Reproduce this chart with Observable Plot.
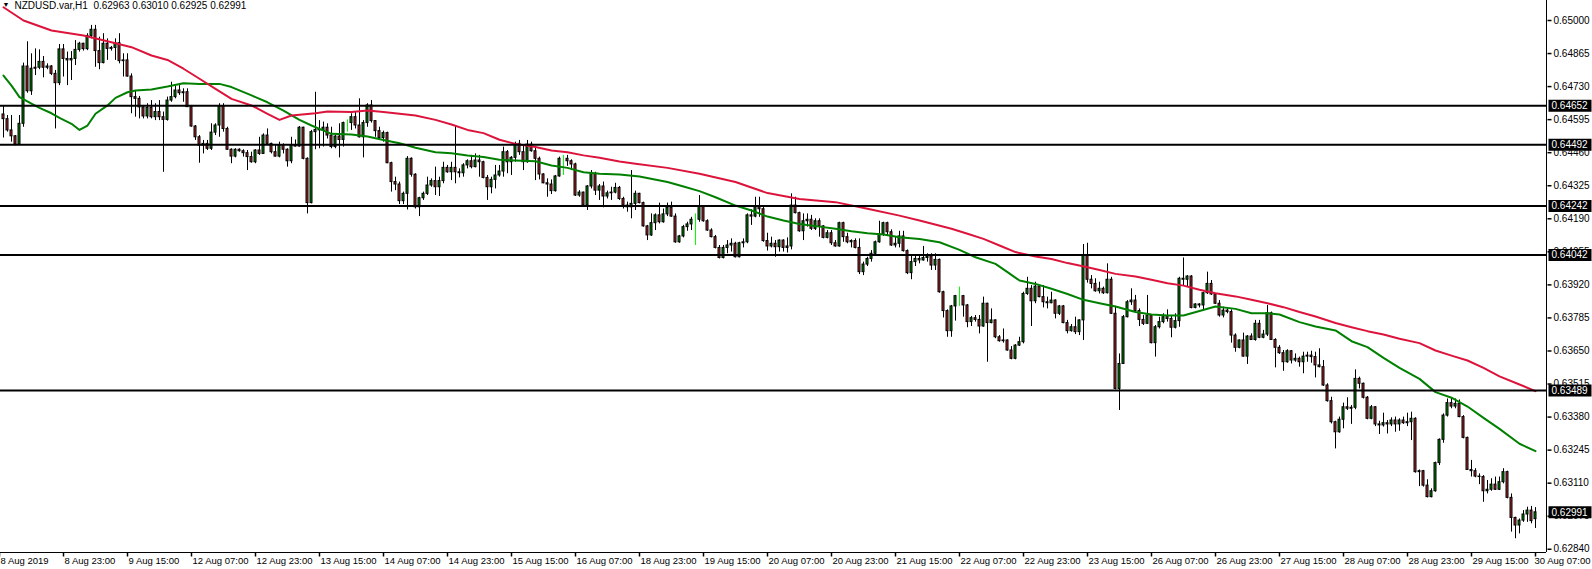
<!DOCTYPE html>
<html><head><meta charset="utf-8">
<script src="https://cdn.jsdelivr.net/npm/d3@7"></script>
<script src="https://cdn.jsdelivr.net/npm/@observablehq/plot@0.6"></script>
<style>body{margin:0;background:#fff;} svg{display:block}</style>
</head><body><div id="chart"></div>
<script>
const symbolName = "NZDUSD.var,H1";

const opens = [
0.64616,0.64597,0.64551,0.64527,0.64493,0.64578,0.64812,0.64711,0.64803,0.64807,0.64831,0.64807,0.64812,0.64782,0.64744,0.64882,
0.64843,0.64837,0.64843,0.64880,0.64905,0.64883,0.64937,0.64962,0.64875,0.64826,0.64905,0.64884,0.64888,0.64907,0.64834,0.64837,
0.64771,0.64687,0.64680,0.64645,0.64608,0.64643,0.64605,0.64626,0.64605,0.64594,0.64673,0.64687,0.64714,0.64703,0.64707,0.64646,
0.64567,0.64523,0.64489,0.64496,0.64476,0.64542,0.64571,0.64649,0.64557,0.64472,0.64444,0.64472,0.64466,0.64458,0.64442,0.64421,
0.64469,0.64455,0.64530,0.64496,0.64462,0.64444,0.64489,0.64472,0.64425,0.64489,0.64485,0.64562,0.64435,0.64254,0.64544,0.64553,
0.64551,0.64562,0.64530,0.64483,0.64526,0.64512,0.64581,0.64581,0.64605,0.64571,0.64523,0.64581,0.64653,0.64589,0.64548,0.64520,
0.64540,0.64417,0.64340,0.64330,0.64262,0.64292,0.64435,0.64370,0.64237,0.64274,0.64292,0.64326,0.64344,0.64319,0.64344,0.64398,
0.64380,0.64398,0.64380,0.64376,0.64408,0.64425,0.64401,0.64428,0.64421,0.64357,0.64319,0.64349,0.64367,0.64383,0.64462,0.64421,
0.64439,0.64496,0.64462,0.64421,0.64493,0.64466,0.64435,0.64371,0.64335,0.64330,0.64303,0.64363,0.64435,0.64435,0.64425,0.64412,
0.64285,0.64297,0.64244,0.64322,0.64374,0.64305,0.64322,0.64281,0.64294,0.64297,0.64316,0.64271,0.64244,0.64237,0.64251,0.64292,
0.64254,0.64159,0.64122,0.64172,0.64204,0.64176,0.64208,0.64235,0.64199,0.64094,0.64118,0.64156,0.64167,0.64186,0.64186,0.64240,
0.64180,0.64142,0.64115,0.64071,0.64030,0.64071,0.64081,0.64088,0.64033,0.64090,0.64094,0.64204,0.64199,0.64237,0.64229,0.64099,
0.64077,0.64088,0.64074,0.64101,0.64071,0.64077,0.64244,0.64213,0.64139,0.64180,0.64186,0.64149,0.64180,0.64159,0.64112,0.64131,
0.64090,0.64077,0.64172,0.64115,0.64094,0.64099,0.64071,0.63972,0.64003,0.64026,0.64047,0.64094,0.64126,0.64172,0.64135,0.64081,
0.64088,0.64118,0.64058,0.63968,0.64013,0.64026,0.64020,0.64030,0.64036,0.63999,0.64022,0.63890,0.63813,0.63731,0.63832,0.63874,
0.63874,0.63836,0.63768,0.63784,0.63777,0.63750,0.63843,0.63764,0.63775,0.63706,0.63690,0.63693,0.63652,0.63618,0.63672,0.63686,
0.63883,0.63904,0.63853,0.63913,0.63870,0.63849,0.63845,0.63856,0.63802,0.63832,0.63764,0.63731,0.63747,0.63727,0.63775,0.64040,
0.63941,0.63924,0.63894,0.63904,0.63886,0.63941,0.63802,0.63495,0.63597,0.63788,0.63849,0.63856,0.63813,0.63777,0.63761,0.63795,
0.63682,0.63747,0.63768,0.63788,0.63781,0.63745,0.63772,0.63945,0.63941,0.63954,0.63826,0.63840,0.63836,0.63886,0.63924,0.63881,
0.63843,0.63795,0.63815,0.63809,0.63713,0.63663,0.63693,0.63627,0.63709,0.63695,0.63761,0.63704,0.63717,0.63804,0.63695,0.63663,
0.63641,0.63604,0.63649,0.63611,0.63618,0.63604,0.63627,0.63631,0.63625,0.63591,0.63584,0.63509,0.63445,0.63359,0.63318,0.63369,
0.63420,0.63414,0.63418,0.63536,0.63516,0.63459,0.63373,0.63420,0.63350,0.63346,0.63355,0.63350,0.63366,0.63350,0.63366,0.63355,
0.63359,0.63373,0.63155,0.63159,0.63100,0.63053,0.63077,0.63192,0.63287,0.63386,0.63437,0.63423,0.63434,0.63380,0.63295,0.63164,
0.63159,0.63137,0.63135,0.63077,0.63083,0.63104,0.63083,0.63114,0.63155,0.63050,0.62968,0.62937,0.62957,0.62982,0.62998,0.62963];

const highs = [
0.64649,0.64612,0.64612,0.64530,0.64612,0.64826,0.64913,0.64864,0.64884,0.64880,0.64853,0.64823,0.64816,0.64796,0.64902,0.64902,
0.64871,0.64873,0.64918,0.64911,0.64907,0.64946,0.64980,0.64980,0.64932,0.64946,0.64925,0.64894,0.64925,0.64946,0.64864,0.64864,
0.64782,0.64714,0.64690,0.64653,0.64660,0.64673,0.64660,0.64673,0.64626,0.64687,0.64748,0.64734,0.64734,0.64721,0.64721,0.64653,
0.64571,0.64530,0.64510,0.64510,0.64578,0.64578,0.64660,0.64660,0.64564,0.64476,0.64476,0.64476,0.64472,0.64469,0.64462,0.64472,
0.64523,0.64537,0.64557,0.64499,0.64489,0.64503,0.64496,0.64476,0.64523,0.64512,0.64567,0.64564,0.64439,0.64551,0.64707,0.64591,
0.64585,0.64578,0.64564,0.64530,0.64578,0.64585,0.64594,0.64619,0.64626,0.64680,0.64591,0.64660,0.64673,0.64591,0.64564,0.64548,
0.64544,0.64421,0.64360,0.64340,0.64299,0.64444,0.64439,0.64374,0.64278,0.64299,0.64360,0.64353,0.64401,0.64360,0.64421,0.64408,
0.64421,0.64571,0.64394,0.64415,0.64431,0.64449,0.64455,0.64449,0.64425,0.64367,0.64360,0.64408,0.64408,0.64483,0.64469,0.64444,
0.64503,0.64510,0.64489,0.64510,0.64503,0.64483,0.64442,0.64374,0.64353,0.64349,0.64367,0.64442,0.64449,0.64449,0.64431,0.64417,
0.64305,0.64299,0.64326,0.64387,0.64380,0.64330,0.64340,0.64303,0.64319,0.64335,0.64322,0.64278,0.64258,0.64387,0.64303,0.64294,
0.64258,0.64163,0.64210,0.64210,0.64254,0.64230,0.64254,0.64258,0.64210,0.64122,0.64163,0.64176,0.64196,0.64210,0.64285,0.64244,
0.64186,0.64149,0.64122,0.64081,0.64081,0.64101,0.64108,0.64094,0.64094,0.64108,0.64210,0.64227,0.64278,0.64278,0.64237,0.64131,
0.64115,0.64101,0.64104,0.64104,0.64112,0.64292,0.64278,0.64217,0.64210,0.64210,0.64204,0.64190,0.64190,0.64162,0.64142,0.64142,
0.64101,0.64176,0.64176,0.64131,0.64104,0.64108,0.64108,0.64013,0.64033,0.64060,0.64099,0.64180,0.64176,0.64176,0.64145,0.64115,
0.64139,0.64139,0.64063,0.64036,0.64040,0.64040,0.64077,0.64047,0.64047,0.64047,0.64026,0.63894,0.63818,0.63836,0.63877,0.63911,
0.63877,0.63840,0.63791,0.63795,0.63795,0.63870,0.63845,0.63822,0.63777,0.63713,0.63740,0.63695,0.63668,0.63676,0.63706,0.63890,
0.63951,0.63917,0.63931,0.63917,0.63917,0.63870,0.63890,0.63859,0.63836,0.63836,0.63775,0.63758,0.63788,0.63777,0.64085,0.64090,
0.63958,0.63945,0.63931,0.63911,0.64006,0.63951,0.63832,0.63638,0.63795,0.63856,0.63904,0.63877,0.63822,0.63795,0.63877,0.63799,
0.63754,0.63788,0.63802,0.63818,0.63795,0.63802,0.63951,0.64030,0.63958,0.63958,0.63843,0.63843,0.63890,0.63972,0.63938,0.63883,
0.63856,0.63829,0.63822,0.63818,0.63720,0.63695,0.63723,0.63713,0.63720,0.63775,0.63775,0.63734,0.63836,0.63809,0.63700,0.63672,
0.63652,0.63655,0.63652,0.63638,0.63625,0.63645,0.63645,0.63649,0.63645,0.63659,0.63611,0.63516,0.63461,0.63363,0.63380,0.63437,
0.63459,0.63427,0.63573,0.63543,0.63519,0.63464,0.63427,0.63423,0.63363,0.63396,0.63366,0.63377,0.63380,0.63373,0.63380,0.63396,
0.63400,0.63377,0.63164,0.63162,0.63124,0.63087,0.63196,0.63291,0.63393,0.63454,0.63459,0.63454,0.63450,0.63386,0.63298,0.63203,
0.63169,0.63148,0.63141,0.63121,0.63128,0.63135,0.63135,0.63169,0.63159,0.63066,0.62971,0.62964,0.62998,0.63012,0.63015,0.63010];

const lows = [
0.64520,0.64544,0.64503,0.64488,0.64491,0.64564,0.64703,0.64694,0.64775,0.64799,0.64766,0.64799,0.64775,0.64557,0.64734,0.64769,
0.64734,0.64755,0.64816,0.64871,0.64875,0.64877,0.64925,0.64809,0.64799,0.64823,0.64837,0.64875,0.64837,0.64823,0.64769,0.64769,
0.64619,0.64605,0.64598,0.64598,0.64598,0.64598,0.64591,0.64591,0.64380,0.64589,0.64666,0.64680,0.64694,0.64666,0.64645,0.64564,
0.64510,0.64417,0.64455,0.64469,0.64469,0.64530,0.64523,0.64544,0.64469,0.64415,0.64439,0.64462,0.64442,0.64387,0.64417,0.64415,
0.64449,0.64453,0.64493,0.64455,0.64442,0.64439,0.64455,0.64401,0.64415,0.64483,0.64483,0.64431,0.64210,0.64251,0.64472,0.64476,
0.64483,0.64516,0.64476,0.64476,0.64439,0.64483,0.64544,0.64551,0.64557,0.64520,0.64439,0.64564,0.64581,0.64523,0.64512,0.64503,
0.64415,0.64299,0.64305,0.64248,0.64248,0.64226,0.64360,0.64230,0.64199,0.64265,0.64285,0.64319,0.64285,0.64281,0.64333,0.64376,
0.64346,0.64333,0.64357,0.64360,0.64394,0.64394,0.64398,0.64360,0.64353,0.64265,0.64292,0.64312,0.64360,0.64360,0.64374,0.64367,
0.64421,0.64449,0.64387,0.64417,0.64462,0.64346,0.64349,0.64333,0.64278,0.64289,0.64299,0.64360,0.64367,0.64404,0.64387,0.64281,
0.64278,0.64240,0.64224,0.64312,0.64285,0.64265,0.64235,0.64271,0.64265,0.64292,0.64265,0.64230,0.64217,0.64190,0.64224,0.64251,
0.64156,0.64101,0.64118,0.64142,0.64169,0.64172,0.64199,0.64196,0.64090,0.64090,0.64112,0.64139,0.64142,0.64081,0.64176,0.64176,
0.64139,0.64112,0.64067,0.64026,0.64026,0.64047,0.64054,0.64030,0.64030,0.64071,0.64088,0.64163,0.64194,0.64196,0.64094,0.64058,
0.64071,0.64033,0.64054,0.64054,0.64050,0.64063,0.64210,0.64135,0.64101,0.64156,0.64142,0.64142,0.64115,0.64108,0.64108,0.64081,
0.64074,0.64074,0.64094,0.64088,0.64071,0.64067,0.63962,0.63958,0.63995,0.64013,0.64040,0.64090,0.64118,0.64122,0.64077,0.64071,
0.64071,0.64054,0.63962,0.63941,0.63995,0.64006,0.64017,0.64013,0.63979,0.63979,0.63886,0.63785,0.63706,0.63706,0.63772,0.63832,
0.63788,0.63745,0.63750,0.63768,0.63720,0.63747,0.63604,0.63761,0.63700,0.63686,0.63682,0.63649,0.63614,0.63614,0.63668,0.63679,
0.63877,0.63750,0.63843,0.63867,0.63826,0.63822,0.63843,0.63781,0.63795,0.63761,0.63720,0.63727,0.63717,0.63713,0.63693,0.63927,
0.63904,0.63890,0.63883,0.63881,0.63883,0.63799,0.63491,0.63407,0.63595,0.63785,0.63836,0.63809,0.63750,0.63754,0.63758,0.63679,
0.63625,0.63740,0.63761,0.63768,0.63704,0.63740,0.63747,0.63917,0.63913,0.63822,0.63822,0.63826,0.63815,0.63881,0.63877,0.63840,
0.63788,0.63785,0.63802,0.63682,0.63645,0.63659,0.63625,0.63595,0.63693,0.63690,0.63700,0.63700,0.63709,0.63693,0.63581,0.63636,
0.63567,0.63600,0.63597,0.63604,0.63584,0.63557,0.63604,0.63600,0.63540,0.63581,0.63505,0.63441,0.63352,0.63250,0.63314,0.63332,
0.63407,0.63350,0.63410,0.63495,0.63454,0.63369,0.63369,0.63341,0.63309,0.63339,0.63311,0.63341,0.63318,0.63322,0.63350,0.63341,
0.63284,0.63151,0.63096,0.63094,0.63050,0.63050,0.63073,0.63182,0.63273,0.63380,0.63414,0.63414,0.63377,0.63291,0.63162,0.63135,
0.63132,0.63104,0.63032,0.63066,0.63077,0.63080,0.63080,0.63107,0.63046,0.62910,0.62883,0.62903,0.62950,0.62950,0.62944,0.62925];

const closes = [
0.64597,0.64551,0.64527,0.64493,0.64578,0.64812,0.64711,0.64803,0.64807,0.64831,0.64807,0.64812,0.64782,0.64744,0.64882,0.64843,
0.64837,0.64843,0.64880,0.64905,0.64883,0.64937,0.64962,0.64875,0.64826,0.64905,0.64884,0.64888,0.64907,0.64834,0.64837,0.64771,
0.64687,0.64680,0.64645,0.64608,0.64643,0.64605,0.64626,0.64605,0.64594,0.64673,0.64687,0.64714,0.64703,0.64707,0.64646,0.64567,
0.64523,0.64489,0.64496,0.64476,0.64542,0.64571,0.64649,0.64557,0.64472,0.64444,0.64472,0.64466,0.64458,0.64442,0.64421,0.64469,
0.64455,0.64530,0.64496,0.64462,0.64444,0.64489,0.64472,0.64425,0.64489,0.64485,0.64562,0.64435,0.64254,0.64544,0.64553,0.64551,
0.64562,0.64530,0.64483,0.64526,0.64512,0.64581,0.64581,0.64605,0.64571,0.64523,0.64581,0.64653,0.64589,0.64548,0.64520,0.64540,
0.64417,0.64340,0.64330,0.64262,0.64292,0.64435,0.64370,0.64237,0.64274,0.64292,0.64326,0.64344,0.64319,0.64344,0.64398,0.64380,
0.64398,0.64380,0.64376,0.64408,0.64425,0.64401,0.64428,0.64421,0.64357,0.64319,0.64349,0.64367,0.64383,0.64462,0.64421,0.64439,
0.64496,0.64462,0.64421,0.64493,0.64466,0.64435,0.64371,0.64335,0.64330,0.64303,0.64363,0.64435,0.64435,0.64425,0.64412,0.64285,
0.64297,0.64244,0.64322,0.64374,0.64305,0.64322,0.64281,0.64294,0.64297,0.64316,0.64271,0.64244,0.64237,0.64251,0.64292,0.64254,
0.64159,0.64122,0.64172,0.64204,0.64176,0.64208,0.64235,0.64199,0.64094,0.64118,0.64156,0.64167,0.64186,0.64186,0.64240,0.64180,
0.64142,0.64115,0.64071,0.64030,0.64071,0.64081,0.64088,0.64033,0.64090,0.64094,0.64204,0.64199,0.64237,0.64229,0.64099,0.64077,
0.64088,0.64074,0.64101,0.64071,0.64077,0.64244,0.64213,0.64139,0.64180,0.64186,0.64149,0.64180,0.64159,0.64112,0.64131,0.64090,
0.64077,0.64172,0.64115,0.64094,0.64099,0.64071,0.63972,0.64003,0.64026,0.64047,0.64094,0.64126,0.64172,0.64135,0.64081,0.64088,
0.64118,0.64058,0.63968,0.64013,0.64026,0.64020,0.64030,0.64036,0.63999,0.64022,0.63890,0.63813,0.63731,0.63832,0.63874,0.63874,
0.63836,0.63768,0.63784,0.63777,0.63750,0.63843,0.63764,0.63775,0.63706,0.63690,0.63693,0.63652,0.63618,0.63672,0.63686,0.63883,
0.63904,0.63853,0.63913,0.63870,0.63849,0.63845,0.63856,0.63802,0.63832,0.63764,0.63731,0.63747,0.63727,0.63775,0.64040,0.63941,
0.63924,0.63894,0.63904,0.63886,0.63941,0.63802,0.63495,0.63597,0.63788,0.63849,0.63856,0.63813,0.63777,0.63761,0.63795,0.63682,
0.63747,0.63768,0.63788,0.63781,0.63745,0.63772,0.63945,0.63941,0.63954,0.63826,0.63840,0.63836,0.63886,0.63924,0.63881,0.63843,
0.63795,0.63815,0.63809,0.63713,0.63663,0.63693,0.63627,0.63709,0.63695,0.63761,0.63704,0.63717,0.63804,0.63695,0.63663,0.63641,
0.63604,0.63649,0.63611,0.63618,0.63604,0.63627,0.63631,0.63625,0.63591,0.63584,0.63509,0.63445,0.63359,0.63318,0.63369,0.63420,
0.63414,0.63418,0.63536,0.63516,0.63459,0.63373,0.63420,0.63350,0.63346,0.63355,0.63350,0.63366,0.63350,0.63366,0.63355,0.63359,
0.63373,0.63155,0.63159,0.63100,0.63053,0.63077,0.63192,0.63287,0.63386,0.63437,0.63423,0.63434,0.63380,0.63295,0.63164,0.63159,
0.63137,0.63135,0.63077,0.63083,0.63104,0.63083,0.63114,0.63155,0.63050,0.62968,0.62937,0.62957,0.62982,0.62998,0.62955,0.62991];

const redMaBars = [0,5,12,20,28,32,37,41,45,49,53,57,62,66,69,72,78,81,87,91,95,99,103,108,112,116,120,124,128,133,137,141,145,149,154,158,166,174,183,191,199,208,216,224,229,237,241,245,249,253,258,262,266,271,274,278,283,287,291,295,299,303,308,312,316,320,324,328,333,337,341,345,349,354,358,362,366,370,374,379,383];
const redMaValues = [0.65054,0.65000,0.64959,0.64939,0.64907,0.64891,0.64857,0.64839,0.64803,0.64762,0.64721,0.64680,0.64653,0.64619,0.64594,0.64612,0.64621,0.64628,0.64626,0.64632,0.64626,0.64619,0.64612,0.64594,0.64575,0.64553,0.64540,0.64513,0.64496,0.64483,0.64469,0.64462,0.64449,0.64439,0.64424,0.64415,0.64398,0.64374,0.64340,0.64295,0.64271,0.64258,0.64231,0.64203,0.64183,0.64149,0.64129,0.64108,0.64081,0.64054,0.64036,0.64026,0.64009,0.63992,0.63981,0.63965,0.63954,0.63941,0.63927,0.63917,0.63900,0.63886,0.63873,0.63859,0.63845,0.63829,0.63809,0.63791,0.63764,0.63747,0.63731,0.63717,0.63700,0.63682,0.63652,0.63631,0.63611,0.63581,0.63546,0.63513,0.63486];

const greenMaBars = [0,2,4,7,9,12,14,17,19,21,23,26,28,31,33,37,41,45,49,54,57,62,66,70,74,77,79,82,87,91,95,99,103,108,112,116,120,124,128,133,137,141,145,149,154,159,166,170,174,178,183,187,191,195,199,204,208,212,216,220,224,229,234,239,243,248,251,254,258,262,266,270,274,278,283,287,291,295,299,303,308,312,316,319,324,328,333,337,341,345,349,354,358,362,366,370,374,379,383];
const greenMaValues = [0.64775,0.64734,0.64687,0.64660,0.64643,0.64621,0.64602,0.64578,0.64553,0.64571,0.64619,0.64653,0.64684,0.64707,0.64714,0.64718,0.64730,0.64744,0.64741,0.64741,0.64728,0.64694,0.64666,0.64632,0.64594,0.64571,0.64557,0.64537,0.64534,0.64526,0.64512,0.64499,0.64480,0.64462,0.64458,0.64449,0.64442,0.64431,0.64428,0.64425,0.64408,0.64398,0.64380,0.64374,0.64371,0.64363,0.64340,0.64322,0.64303,0.64278,0.64244,0.64224,0.64199,0.64183,0.64169,0.64158,0.64149,0.64139,0.64131,0.64126,0.64115,0.64107,0.64094,0.64063,0.64033,0.64006,0.63972,0.63938,0.63924,0.63904,0.63883,0.63859,0.63845,0.63832,0.63809,0.63799,0.63795,0.63795,0.63813,0.63832,0.63822,0.63804,0.63804,0.63799,0.63768,0.63750,0.63734,0.63690,0.63666,0.63622,0.63581,0.63536,0.63482,0.63459,0.63423,0.63377,0.63332,0.63271,0.63241];

const levels = [0.64652, 0.64492, 0.64242, 0.64042, 0.63489];
const priceTicks = [0.65000,0.64865,0.64730,0.64595,0.64460,0.64325,0.64190,0.64055,0.63920,0.63785,0.63650,0.63515,0.63380,0.63245,0.63110,0.62975,0.62840];
const xTickBars = [-1,15,31,47,63,79,95,111,127,143,159,175,191,207,223,239,255,271,287,303,319,335,351,367,383];
const xTickLabels = ["8 Aug 2019","8 Aug 23:00","9 Aug 15:00","12 Aug 07:00","12 Aug 23:00","13 Aug 15:00","14 Aug 07:00","14 Aug 23:00","15 Aug 15:00","16 Aug 07:00","18 Aug 23:00","19 Aug 15:00","20 Aug 07:00","20 Aug 23:00","21 Aug 15:00","22 Aug 07:00","22 Aug 23:00","23 Aug 15:00","26 Aug 07:00","26 Aug 23:00","27 Aug 15:00","28 Aug 07:00","28 Aug 23:00","29 Aug 15:00","30 Aug 07:00"];

const xDomain = [-0.75, 385.75];
const yDomain = [0.628268, 0.650817];

const bars = opens.map((o, i) => ({i, open: o, high: highs[i], low: lows[i], close: closes[i]}));
const redMa = redMaBars.map((b, k) => ({i: b, v: redMaValues[k]}));
const greenMa = greenMaBars.map((b, k) => ({i: b, v: greenMaValues[k]}));
const last = bars[bars.length - 1];
const fmt = d3.format(".5f");
const titleText = symbolName + "  " + [last.open, last.high, last.low, last.close].map(fmt).join(" ");
const labelOf = new Map(xTickBars.map((b, k) => [b, xTickLabels[k]]));
const boxed = levels.concat([last.close]);
const mainTicks = xTickBars.slice(0, -1);
const edgeTicks = xTickBars.slice(-1);

const bullFill = "#008000", bearFill = "#a52a2a", dojiColor = "#00ff00";
const boxSym = {draw(ctx) { ctx.rect(2, -6, 43, 12); }};
const vTickSym = {draw(ctx) { ctx.moveTo(0, 0); ctx.lineTo(0, 4); }};
const hTickSym = {draw(ctx) { ctx.moveTo(1, 0); ctx.lineTo(5, 0); }};

const chart = Plot.plot({
  width: 1592, height: 569,
  marginLeft: 0, marginRight: 46, marginTop: 0, marginBottom: 17,
  x: {domain: xDomain, axis: null},
  y: {domain: yDomain, axis: null},
  style: {fontFamily: "'Liberation Sans', Arial, sans-serif", fontSize: "10px", background: "white", color: "black", overflow: "visible"},
  marks: [
    Plot.ruleX(bars, {x: "i", y1: "low", y2: "high", stroke: d => d.open === d.close ? dojiColor : "black", strokeWidth: 1}),
    Plot.rect(bars, {
      x1: d => d.i - 0.25, x2: d => d.i + 0.25, y1: "open", y2: "close",
      fill: d => d.close > d.open ? bullFill : (d.close < d.open ? bearFill : "none"),
      stroke: d => d.open === d.close ? dojiColor : "black", strokeWidth: 1
    }),
    Plot.line(greenMa, {x: "i", y: "v", stroke: "#008000", strokeWidth: 2}),
    Plot.line(redMa, {x: "i", y: "v", stroke: "#dc143c", strokeWidth: 2}),
    Plot.ruleY(levels, {y: d => d, stroke: "black", strokeWidth: 2}),
    Plot.ruleX([xDomain[1]], {x: d => d, stroke: "black", strokeWidth: 1}),
    Plot.ruleY([yDomain[0]], {y: d => d, stroke: "black", strokeWidth: 1}),
    Plot.dot(xTickBars, {x: d => d, frameAnchor: "bottom", symbol: vTickSym, r: 1, stroke: "black", fill: "none"}),
    Plot.text(mainTicks, {x: d => d, frameAnchor: "bottom", text: d => labelOf.get(d), textAnchor: "start", lineAnchor: "top", dy: 5, dx: 1, fill: "black", fontSize: 9.5}),
    Plot.text(edgeTicks, {x: d => d, frameAnchor: "bottom", text: d => labelOf.get(d), textAnchor: "end", lineAnchor: "top", dy: 5, dx: 55, fill: "black", fontSize: 9.5}),
    Plot.dot(priceTicks, {y: d => d, frameAnchor: "right", symbol: hTickSym, r: 1, stroke: "black", fill: "none"}),
    Plot.text(priceTicks, {y: d => d, frameAnchor: "right", text: d => fmt(d), textAnchor: "start", dx: 7, fill: "black"}),
    Plot.dot(boxed, {y: d => d, frameAnchor: "right", symbol: boxSym, r: 1, fill: "black", stroke: "none"}),
    Plot.text(boxed, {y: d => d, frameAnchor: "right", text: d => fmt(d), textAnchor: "start", dx: 5, fill: "white"}),
    Plot.text(["\u25BC"], {frameAnchor: "top-left", text: d => d, dx: 2, dy: 2, lineAnchor: "top", textAnchor: "start", fontSize: 7, fill: "black"}),
    Plot.text([titleText], {frameAnchor: "top-left", text: d => d, dx: 14, dy: 1, lineAnchor: "top", textAnchor: "start", fill: "black"})
  ]
});
document.getElementById("chart").appendChild(chart);
</script>
</body></html>
